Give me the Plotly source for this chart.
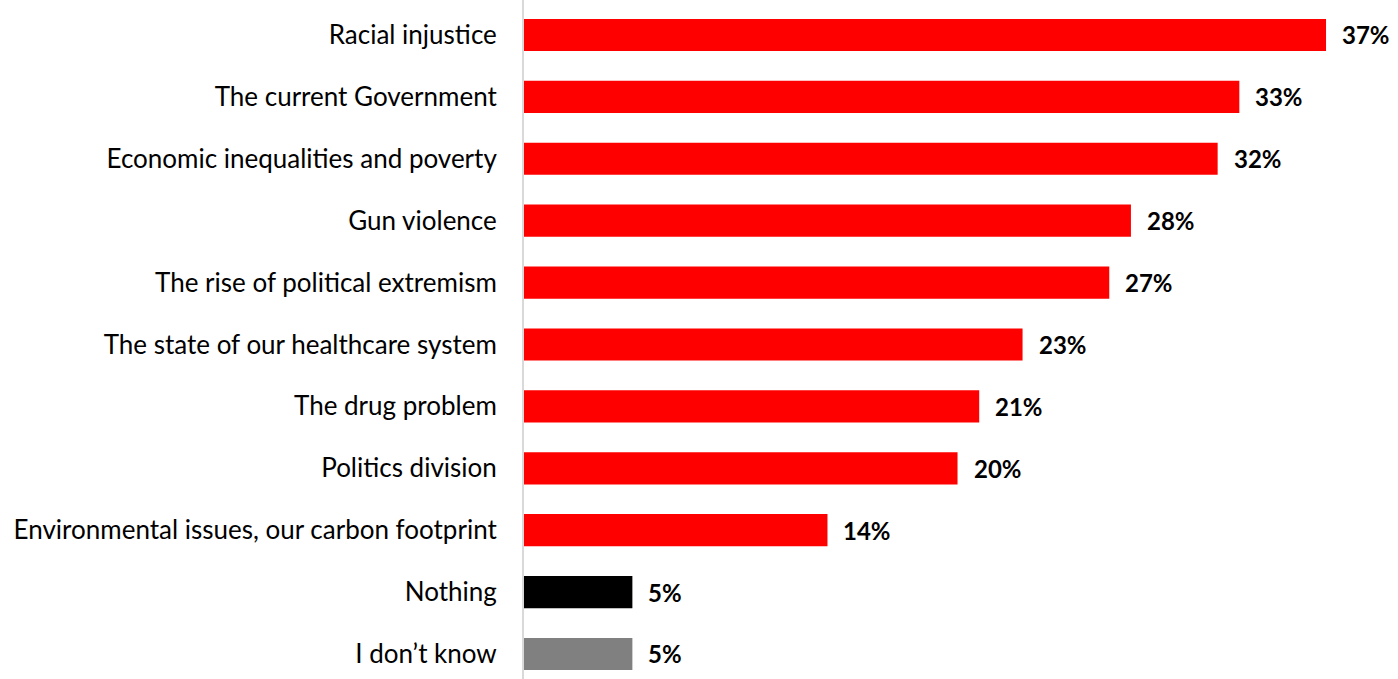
import plotly.graph_objects as go

# Survey responses, top to bottom
categories = [
    "Racial injustice",
    "The current Government",
    "Economic inequalities and poverty",
    "Gun violence",
    "The rise of political extremism",
    "The state of our healthcare system",
    "The drug problem",
    "Politics division",
    "Environmental issues, our carbon footprint",
    "Nothing",
    "I don\u2019t know",
]
values = [37, 33, 32, 28, 27, 23, 21, 20, 14, 5, 5]
bar_colors = ["#FF0000"] * 9 + ["#000000", "#808080"]

FONT = "Lato, Calibri, Carlito, sans-serif"

fig = go.Figure(
    go.Bar(
        x=values,
        y=categories,
        orientation="h",
        marker=dict(color=bar_colors, line=dict(width=0)),
        hoverinfo="skip",
    )
)

# Bold percentage labels to the right of each bar
for cat, val in zip(categories, values):
    fig.add_annotation(
        x=val, y=cat, text=f"<b>{val}%</b>", showarrow=False,
        xanchor="left", yanchor="middle", xshift=14,
        font=dict(family=FONT, size=24, color="#000000"),
    )

fig.update_layout(
    width=1398, height=679,
    margin=dict(l=524, r=0, t=0, b=0),
    paper_bgcolor="white", plot_bgcolor="white",
    bargap=0.48,
    showlegend=False,
    font=dict(family=FONT, size=26, color="#000000"),
    xaxis=dict(range=[0, 40.32], visible=False, fixedrange=True),
    yaxis=dict(
        type="category",
        categoryorder="array", categoryarray=categories,
        range=[10.404, -0.565],
        showgrid=False, zeroline=False,
        showline=True, linecolor="#D9D9D9", linewidth=2,
        ticks="", ticklabelstandoff=20,
        tickfont=dict(family=FONT, size=26, color="#000000"),
        fixedrange=True,
    ),
)

fig.write_html("out.html")
